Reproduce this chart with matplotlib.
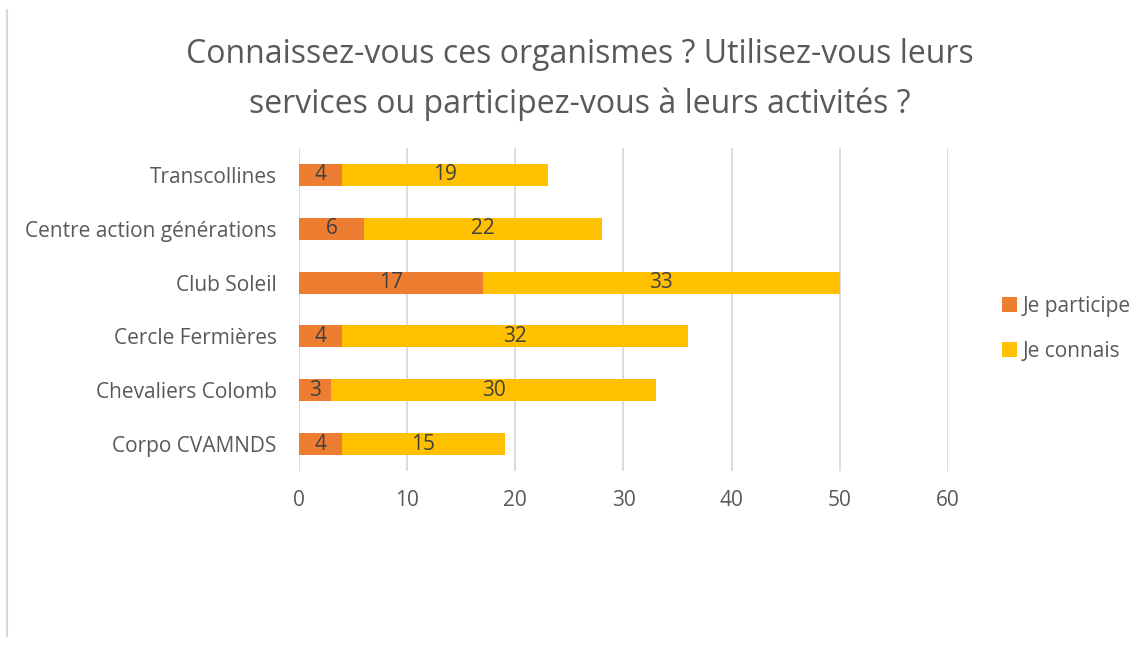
import matplotlib
matplotlib.use("Agg")
from matplotlib import pyplot as plt
from matplotlib.lines import Line2D
import numpy as np

plt.rcParams['font.family'] = ['Open Sans', 'DejaVu Sans']

## Chart data
categories = ['Transcollines', 'Centre action générations', 'Club Soleil',
              'Cercle Fermières', 'Chevaliers Colomb', 'Corpo CVAMNDS']
participe = [4, 6, 17, 4, 3, 4]
connais = [19, 22, 33, 32, 30, 15]
xticks = [0, 10, 20, 30, 40, 50, 60]
title = 'Connaissez-vous ces organismes ? Utilisez-vous leurs\nservices ou participez-vous à leurs activités ?'

orange = '#ED7D31'
yellow = '#FFC000'
grey = '#595959'

fig = plt.figure(figsize=(11.46, 6.5), dpi=100)
ax = fig.add_axes([0.2609, 0.2754, 0.5663, 0.4969])

y = np.arange(len(categories))[::-1]
b1 = ax.barh(y, participe, height=0.41, color=orange, label='Je participe', zorder=3)
b2 = ax.barh(y, connais, left=participe, height=0.41, color=yellow, label='Je connais', zorder=3)
ax.bar_label(b1, label_type='center', fontsize=15, color='#404040')
ax.bar_label(b2, label_type='center', fontsize=15, color='#404040')

ax.set_xlim(0, 60)
ax.set_ylim(-0.5, len(categories) - 0.5)
ax.set_xticks(xticks)
ax.set_yticks(y)
ax.set_yticklabels(categories)
ax.tick_params(axis='both', length=0, labelsize=15, labelcolor=grey)
ax.tick_params(axis='y', pad=16)
ax.tick_params(axis='x', pad=14)
ax.grid(axis='x', color='#d9d9d9', linewidth=1.3, zorder=0)
for s in ax.spines.values():
    s.set_visible(False)

fig.text(0.506, 0.877, title, ha='center', va='center', fontsize=23,
         color=grey, linespacing=1.65)

leg = ax.legend(loc='center left', bbox_to_anchor=(1.0, 0.44), frameon=False,
                fontsize=15, labelcolor=grey, handlelength=0.7, handleheight=0.7,
                handletextpad=0.3, labelspacing=1.15, borderaxespad=2.2)

# left border line of the chart area
fig.add_artist(Line2D([7 / 1146, 7 / 1146], [1 - 10 / 650, 1 - 636 / 650],
                      color='#d9d9d9', linewidth=1.5))

plt.savefig('out.png', dpi=100)
plt.close()
